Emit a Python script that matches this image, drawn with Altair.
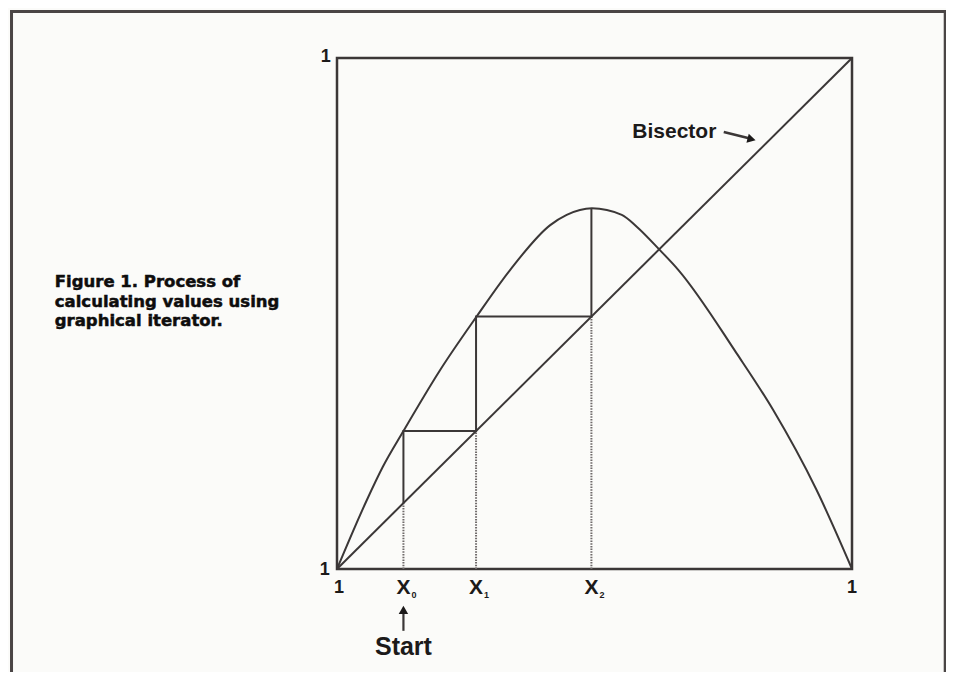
import altair as alt
import pandas as pd

# ---- data (unit square, 0..1) ----
curve_x = [0.0, 0.058, 0.089, 0.129, 0.200, 0.271, 0.336, 0.414, 0.446, 0.495,
           0.553, 0.582, 0.627, 0.663, 0.776, 0.847, 0.931, 1.0]
curve_y = [0.0, 0.135, 0.200, 0.270, 0.389, 0.494, 0.585, 0.673, 0.693, 0.706,
           0.693, 0.670, 0.624, 0.585, 0.422, 0.311, 0.155, 0.0]
bisector = [0.0, 1.0]
iterates = [0.129, 0.270, 0.494, 0.706]          # x0, x1, x2, f(x2)
x_tick_text = ["X", "X", "X"]
x_tick_sub = ["0", "1", "2"]
corner_text = "1"
caption_lines = ["Figure 1. Process of", "calculating values using", "graphical iterator."]
start_text = "Start"
bisector_text = "Bisector"

# ---- tables ----
curve_df = pd.DataFrame({"x": curve_x, "y": curve_y, "o": range(len(curve_x))})
bis_df = pd.DataFrame({"x": bisector, "y": bisector})
path = [(iterates[0], iterates[0])]
for i in range(len(iterates) - 1):
    path.append((iterates[i], iterates[i + 1]))
    if i + 1 < len(iterates) - 1:
        path.append((iterates[i + 1], iterates[i + 1]))
cob_df = pd.DataFrame({"x": [p[0] for p in path], "y": [p[1] for p in path], "o": range(len(path))})
dot_df = pd.DataFrame({"x": iterates[:3], "y0": [0.0] * 3, "y1": iterates[:3]})
xt_df = pd.DataFrame({"x": iterates[:3], "t": x_tick_text, "s": x_tick_sub})

LINE = "#3b3737"
TXT = "#1c1a1a"
SC = alt.Scale(domain=[0, 1], nice=False, zero=False)
LABEL_Y = -0.038

def X(f):
    return alt.X(f, type="quantitative", scale=SC, axis=None)

def Y(f):
    return alt.Y(f, type="quantitative", scale=SC, axis=None)

# outer frame of the figure
frame = alt.Chart(pd.DataFrame({"x": [-0.632], "x2": [1.181], "y": [1.091], "y2": [-0.35]})).mark_rect(
    fillOpacity=0, stroke="#4a4545", strokeWidth=3
).encode(x=X("x"), x2="x2:Q", y=Y("y"), y2="y2:Q")

curve = alt.Chart(curve_df).mark_line(color=LINE, strokeWidth=2, interpolate="monotone").encode(
    x=X("x"), y=Y("y"), order="o:Q")
bis = alt.Chart(bis_df).mark_line(color=LINE, strokeWidth=2).encode(x=X("x"), y=Y("y"))
cob = alt.Chart(cob_df).mark_line(color=LINE, strokeWidth=2).encode(x=X("x"), y=Y("y"), order="o:Q")
dots = alt.Chart(dot_df).mark_rule(color="#6f6a6a", strokeWidth=2, strokeDash=[1.5, 1.2]).encode(
    x=X("x"), y=Y("y0"), y2="y1:Q")

FONT = "Liberation Sans"
lab_df = xt_df.assign(y=LABEL_Y)
xt = alt.Chart(lab_df).mark_text(font=FONT, fontWeight="bold", fontSize=21, color=TXT, baseline="middle").encode(
    x=X("x"), y=Y("y"), text="t:N")
xs = alt.Chart(lab_df).mark_text(font=FONT, fontWeight="bold", fontSize=9, color=TXT, baseline="middle",
                                 dx=10.5, dy=7).encode(x=X("x"), y=Y("y"), text="s:N")

corner_df = pd.DataFrame({"x": [-0.022, -0.024, 0.004, 1.0], "y": [1.001, -0.002, LABEL_Y, LABEL_Y],
                          "t": [corner_text] * 4})
corners = alt.Chart(corner_df).mark_text(font=FONT, fontWeight="bold", fontSize=18, color=TXT,
                                         baseline="middle").encode(x=X("x"), y=Y("y"), text="t:N")

caption = alt.Chart(pd.DataFrame({"x": [-0.548], "y": [0.551]})).mark_text(
    font="DejaVu Sans", fontWeight="bold", fontSize=16.5, lineHeight=19.5, color="#0e0d0d", align="left",
    baseline="alphabetic", stroke="#0e0d0d", strokeWidth=0.5
).encode(x=X("x"), y=Y("y"), text=alt.value(caption_lines))

start = alt.Chart(pd.DataFrame({"x": [iterates[0]], "y": [-0.152]})).mark_text(
    font=FONT, fontWeight="bold", fontSize=25, color=TXT, baseline="middle"
).encode(x=X("x"), y=Y("y"), text=alt.value(start_text))
start_line = alt.Chart(pd.DataFrame({"x": [iterates[0]], "y": [-0.121], "y2": [-0.082]})).mark_rule(
    color=LINE, strokeWidth=2.2).encode(x=X("x"), y=Y("y"), y2="y2:Q")
start_head = alt.Chart(pd.DataFrame({"x": [iterates[0]], "y": [-0.080]})).mark_point(
    shape="triangle-up", filled=True, size=90, color=TXT, opacity=1).encode(x=X("x"), y=Y("y"))

bis_label = alt.Chart(pd.DataFrame({"x": [0.655], "y": [0.855]})).mark_text(
    font=FONT, fontWeight="bold", fontSize=21, color=TXT, baseline="middle"
).encode(x=X("x"), y=Y("y"), text=alt.value(bisector_text))
bis_line = alt.Chart(pd.DataFrame({"x": [0.751], "y": [0.855], "x2": [0.800], "y2": [0.843]})).mark_rule(
    color=LINE, strokeWidth=2.6).encode(x=X("x"), y=Y("y"), x2="x2:Q", y2="y2:Q")
bis_head = alt.Chart(pd.DataFrame({"x": [0.805], "y": [0.841]})).mark_point(
    shape="triangle-right", filled=True, size=90, angle=14, color=TXT, opacity=1).encode(x=X("x"), y=Y("y"))

chart = alt.layer(
    frame, dots, curve, bis, cob, xt, xs, corners, caption, start, start_line, start_head,
    bis_label, bis_line, bis_head
).properties(
    width=515, height=511,
    padding={"left": 329, "top": 50, "right": 94, "bottom": 103},
    autosize=alt.AutoSizeParams(type="none"),
    background="#fbfbf9",
).configure_view(stroke=LINE, strokeWidth=2.5)

chart.save("out.html", embed_options={"renderer": "svg", "actions": False})
